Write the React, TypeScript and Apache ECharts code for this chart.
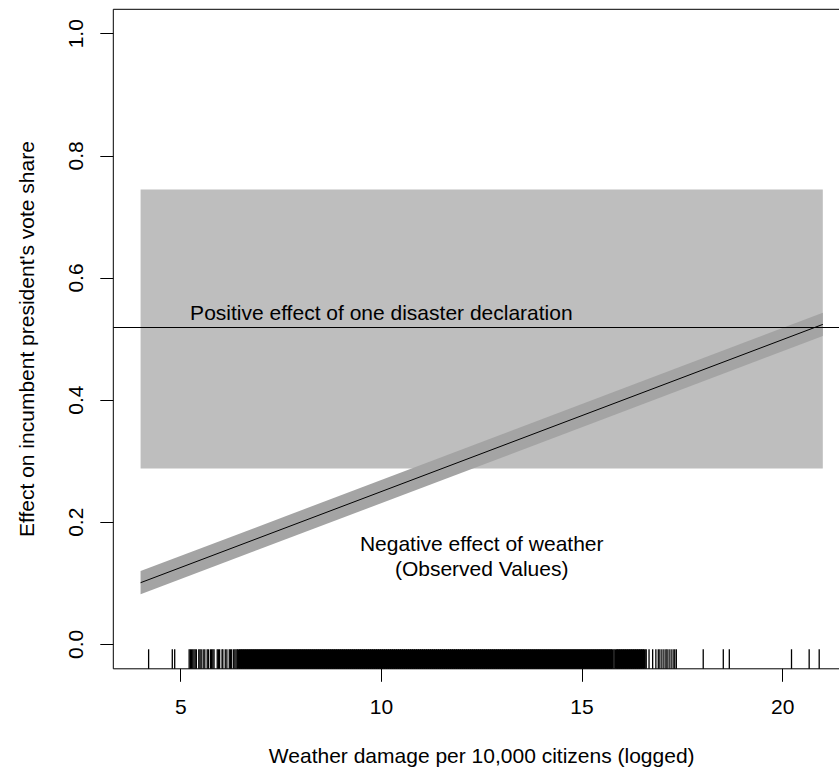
import React, { useEffect, useRef } from "react";
import * as echarts from "echarts";

// ---- axis limits and ticks ----
const xMin = 3.32;
const xMax = 21.68;
const yMin = -0.04;
const yMax = 1.04;
const xTicks = [5, 10, 15, 20];
const yTicks = [0, 0.2, 0.4, 0.6, 0.8, 1.0];

// ---- shaded box (x range, y range) ----
const rectX = [4, 21];
const rectY = [0.288, 0.745];

// ---- horizontal reference line ----
const hlineY = 0.517;

// ---- regression line with band ----
const lineX = [4, 21];
const lineY = [0.101, 0.524];
const bandLower = [0.082, 0.505];
const bandUpper = [0.12, 0.543];

// ---- rug (observed values) ----
const rugSparse = [
  4.2, 4.79, 4.85, 5.21, 5.24, 5.27, 5.3, 5.33, 5.36, 5.39, 5.45, 5.48, 5.51,
  5.56, 5.6, 5.66, 5.69, 5.74, 5.77, 5.8, 5.83, 5.91, 5.94, 5.97, 6.03, 6.05,
  6.11, 6.15, 6.21, 6.24, 6.27, 6.32, 6.35, 6.38, 6.41, 15.8, 16.6, 16.67,
  16.76, 16.84, 16.9, 16.94, 16.99, 17.04, 17.09, 17.12, 17.17, 17.22, 17.27,
  17.31, 17.35, 18.02, 18.52, 18.67, 20.22, 20.66, 20.91,
];
const rugDense = [
  6.45, 6.5, 6.55, 6.6, 6.65, 6.7, 6.75, 6.8, 6.85, 6.9, 6.95,
  7, 7.05, 7.1, 7.15, 7.2, 7.25, 7.3, 7.35, 7.4, 7.45, 7.5, 7.55, 7.6, 7.65, 7.7, 7.75, 7.8, 7.85, 7.9, 7.95,
  8, 8.05, 8.1, 8.15, 8.2, 8.25, 8.3, 8.35, 8.4, 8.45, 8.5, 8.55, 8.6, 8.65, 8.7, 8.75, 8.8, 8.85, 8.9, 8.95,
  9, 9.05, 9.1, 9.15, 9.2, 9.25, 9.3, 9.35, 9.4, 9.45, 9.5, 9.55, 9.6, 9.65, 9.7, 9.75, 9.8, 9.85, 9.9, 9.95,
  10, 10.05, 10.1, 10.15, 10.2, 10.25, 10.3, 10.35, 10.4, 10.45, 10.5, 10.55, 10.6, 10.65, 10.7, 10.75, 10.8, 10.85, 10.9, 10.95,
  11, 11.05, 11.1, 11.15, 11.2, 11.25, 11.3, 11.35, 11.4, 11.45, 11.5, 11.55, 11.6, 11.65, 11.7, 11.75, 11.8, 11.85, 11.9, 11.95,
  12, 12.05, 12.1, 12.15, 12.2, 12.25, 12.3, 12.35, 12.4, 12.45, 12.5, 12.55, 12.6, 12.65, 12.7, 12.75, 12.8, 12.85, 12.9, 12.95,
  13, 13.05, 13.1, 13.15, 13.2, 13.25, 13.3, 13.35, 13.4, 13.45, 13.5, 13.55, 13.6, 13.65, 13.7, 13.75, 13.8, 13.85, 13.9, 13.95,
  14, 14.05, 14.1, 14.15, 14.2, 14.25, 14.3, 14.35, 14.4, 14.45, 14.5, 14.55, 14.6, 14.65, 14.7, 14.75, 14.8, 14.85, 14.9, 14.95,
  15, 15.05, 15.1, 15.15, 15.2, 15.25, 15.3, 15.35, 15.4, 15.45, 15.5, 15.55, 15.6, 15.65, 15.7, 15.75,
  15.85, 15.9, 15.95, 16, 16.05, 16.1, 16.15, 16.2, 16.25, 16.3, 16.35, 16.4, 16.45, 16.5, 16.55,
];

// ---- annotations ----
const annX = [10, 12.5];
const annY = [0.543, 0.145];
const annText = [
  "Positive effect of one disaster declaration",
  "Negative effect of weather\n(Observed Values)",
];

const xTitle = "Weather damage per 10,000 citizens (logged)";
const yTitle = "Effect on incumbent president's vote share";

const FONT = "'Liberation Sans', Arial, Helvetica, sans-serif";
const FS = 21;
const RUG_TOP = -0.008;

function rugSeries(values: number[], width: number, z: number) {
  return {
    type: "custom",
    z,
    silent: true,
    coordinateSystem: "cartesian2d",
    data: values.map((v) => [v, yMin]),
    renderItem: (params: any, api: any) => {
      const x = api.value(0);
      const p0 = api.coord([x, yMin]);
      const p1 = api.coord([x, RUG_TOP]);
      return {
        type: "line",
        shape: { x1: p0[0], y1: p0[1], x2: p1[0], y2: p1[1] },
        style: { stroke: "#000", lineWidth: width },
      };
    },
  };
}

export default function App() {
  const ref = useRef<HTMLDivElement>(null);

  useEffect(() => {
    if (!ref.current) return;
    const chart = echarts.init(ref.current, undefined, { renderer: "svg" });

    const option: any = {
      animation: false,
      backgroundColor: "#fff",
      textStyle: { fontFamily: FONT, color: "#000" },
      grid: {
        left: 113.3,
        top: 9.3,
        width: 736.8,
        height: 659.5,
        show: true,
        borderColor: "#000",
        borderWidth: 1,
        backgroundColor: "transparent",
      },
      xAxis: {
        type: "value",
        min: xMin,
        max: xMax,
        axisLine: { show: false, onZero: false },
        splitLine: { show: false },
        axisTick: {
          show: true,
          length: 13,
          lineStyle: { color: "#000", width: 1 },
          customValues: xTicks,
        },
        axisLabel: {
          customValues: xTicks,
          margin: 27,
          color: "#000",
          fontSize: FS,
          fontFamily: FONT,
          formatter: (v: number) => String(v),
        },
        name: xTitle,
        nameLocation: "middle",
        nameGap: 76,
        nameTextStyle: { color: "#000", fontSize: FS, fontFamily: FONT },
      },
      yAxis: {
        type: "value",
        min: yMin,
        max: yMax,
        axisLine: { show: false, onZero: false },
        splitLine: { show: false },
        axisTick: {
          show: true,
          length: 13,
          lineStyle: { color: "#000", width: 1 },
          customValues: yTicks,
        },
        axisLabel: {
          customValues: yTicks,
          margin: 27,
          rotate: 90,
          color: "#000",
          fontSize: FS,
          fontFamily: FONT,
          formatter: (v: number) => v.toFixed(1),
        },
        name: yTitle,
        nameLocation: "middle",
        nameGap: 76,
        nameTextStyle: { color: "#000", fontSize: FS, fontFamily: FONT },
      },
      series: [
        {
          type: "custom",
          z: 1,
          silent: true,
          coordinateSystem: "cartesian2d",
          data: [[rectX[0], rectY[0], rectX[1], rectY[1]]],
          encode: { x: [0, 2], y: [1, 3] },
          renderItem: (params: any, api: any) => {
            const p0 = api.coord([api.value(0), api.value(3)]);
            const p1 = api.coord([api.value(2), api.value(1)]);
            return {
              type: "rect",
              shape: { x: p0[0], y: p0[1], width: p1[0] - p0[0], height: p1[1] - p0[1] },
              style: { fill: "#BEBEBE" },
            };
          },
        },
        {
          type: "line",
          z: 2,
          silent: true,
          data: [],
          markLine: {
            silent: true,
            symbol: "none",
            label: { show: false },
            lineStyle: { color: "#000", width: 1, type: "solid" },
            data: [{ yAxis: hlineY }],
          },
        },
        {
          type: "custom",
          z: 3,
          silent: true,
          coordinateSystem: "cartesian2d",
          data: [[lineX[0], bandLower[0]]],
          renderItem: (params: any, api: any) => {
            const pts: number[][] = [];
            for (let i = 0; i < lineX.length; i++) pts.push(api.coord([lineX[i], bandUpper[i]]));
            for (let i = lineX.length - 1; i >= 0; i--) pts.push(api.coord([lineX[i], bandLower[i]]));
            return {
              type: "polygon",
              shape: { points: pts },
              style: { fill: "#A4A4A4" },
            };
          },
        },
        {
          type: "line",
          z: 4,
          silent: true,
          showSymbol: false,
          symbol: "none",
          data: lineX.map((x, i) => [x, lineY[i]]),
          lineStyle: { color: "#000", width: 1 },
        },
        rugSeries(rugSparse, 1.3, 5),
        rugSeries(rugDense, 3.2, 5),
        {
          type: "custom",
          z: 6,
          silent: true,
          coordinateSystem: "cartesian2d",
          data: annX.map((x, i) => [x, annY[i], i]),
          renderItem: (params: any, api: any) => {
            const p = api.coord([api.value(0), api.value(1)]);
            return {
              type: "text",
              x: p[0],
              y: p[1],
              style: {
                text: annText[params.dataIndex],
                fill: "#000",
                fontSize: FS,
                fontFamily: FONT,
                align: "center",
                verticalAlign: "middle",
                lineHeight: 25,
              },
            };
          },
        },
      ],
    };

    chart.setOption(option);
    return () => chart.dispose();
  }, []);

  return (
    <div
      style={{
        position: "fixed",
        left: 0,
        top: 0,
        width: 839,
        height: 773,
        overflow: "hidden",
        background: "#fff",
      }}
    >
      <div ref={ref} style={{ width: 860, height: 773 }} />
    </div>
  );
}
